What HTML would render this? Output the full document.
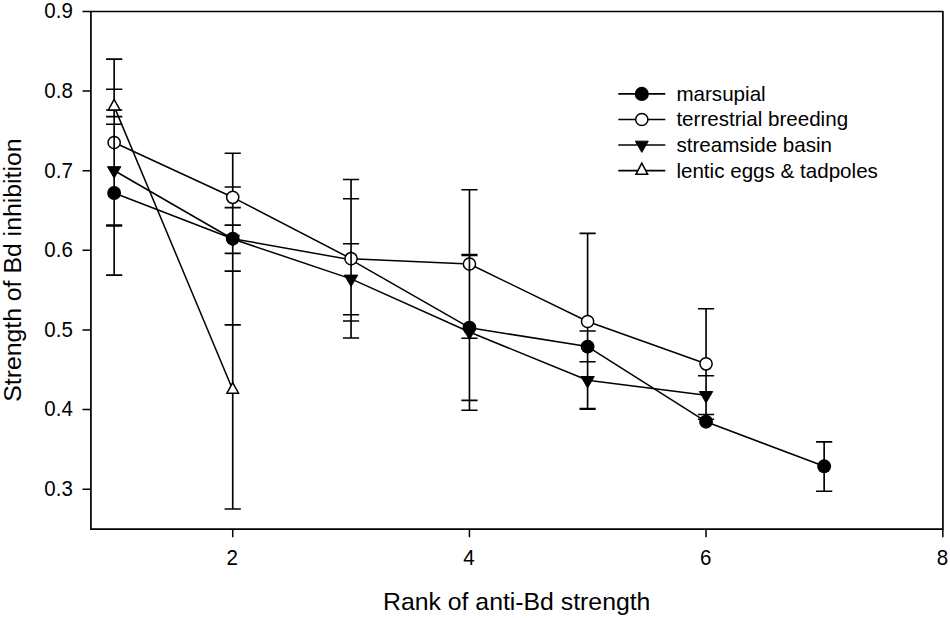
<!DOCTYPE html><html><head><meta charset="utf-8"><style>html,body{margin:0;padding:0;background:#fff;width:950px;height:618px;overflow:hidden}svg{display:block}text{font-family:"Liberation Sans",sans-serif;fill:#000}</style></head><body>
<svg width="950" height="618" viewBox="0 0 950 618">
<rect width="950" height="618" fill="#fff"/>
<path d="M90.9,11.5 L942.9,11.5 L942.9,529.2 L90.9,529.2 Z" fill="none" stroke="#000" stroke-width="1.7" stroke-linejoin="round"/>
<path d="M82.5,11.50 H90.9 M82.5,91.12 H90.9 M82.5,170.74 H90.9 M82.5,250.36 H90.9 M82.5,329.98 H90.9 M82.5,409.60 H90.9 M82.5,489.22 H90.9" stroke="#000" stroke-width="1.5" fill="none"/>
<path d="M232.72,529.2 V537.2 M469.45,529.2 V537.2 M706.05,529.2 V537.2 M942.85,529.2 V537.2" stroke="#000" stroke-width="1.5" fill="none"/>
<text x="72.8" y="18.30" font-size="20.5" text-anchor="end" transform="translate(0,18.30) scale(1,1.08) translate(0,-18.30)">0.9</text>
<text x="72.8" y="97.92" font-size="20.5" text-anchor="end" transform="translate(0,97.92) scale(1,1.08) translate(0,-97.92)">0.8</text>
<text x="72.8" y="177.54" font-size="20.5" text-anchor="end" transform="translate(0,177.54) scale(1,1.08) translate(0,-177.54)">0.7</text>
<text x="72.8" y="257.16" font-size="20.5" text-anchor="end" transform="translate(0,257.16) scale(1,1.08) translate(0,-257.16)">0.6</text>
<text x="72.8" y="336.78" font-size="20.5" text-anchor="end" transform="translate(0,336.78) scale(1,1.08) translate(0,-336.78)">0.5</text>
<text x="72.8" y="416.40" font-size="20.5" text-anchor="end" transform="translate(0,416.40) scale(1,1.08) translate(0,-416.40)">0.4</text>
<text x="72.8" y="496.02" font-size="20.5" text-anchor="end" transform="translate(0,496.02) scale(1,1.08) translate(0,-496.02)">0.3</text>
<text x="232.32" y="565.5" font-size="20.5" text-anchor="middle" transform="translate(0,565.5) scale(1,1.07) translate(0,-565.5)">2</text>
<text x="469.05" y="565.5" font-size="20.5" text-anchor="middle" transform="translate(0,565.5) scale(1,1.07) translate(0,-565.5)">4</text>
<text x="705.65" y="565.5" font-size="20.5" text-anchor="middle" transform="translate(0,565.5) scale(1,1.07) translate(0,-565.5)">6</text>
<text x="942.45" y="565.5" font-size="20.5" text-anchor="middle" transform="translate(0,565.5) scale(1,1.07) translate(0,-565.5)">8</text>
<text x="383" y="610.3" font-size="24.8">Rank of anti-Bd strength</text>
<text transform="translate(21.4,401.8) rotate(-90)" font-size="24.8">Strength of Bd inhibition</text>
<polyline points="114.15,193.00 232.72,238.70 351.05,259.80 469.45,327.70 587.60,346.60 706.05,421.70 824.15,466.30" fill="none" stroke="#000" stroke-width="1.5" stroke-linejoin="round"/>
<polyline points="114.15,142.50 232.72,197.30 351.05,258.70 469.45,264.00 587.60,321.50 706.05,363.80" fill="none" stroke="#000" stroke-width="1.5" stroke-linejoin="round"/>
<polyline points="114.15,170.50 232.72,239.00 351.05,278.90 469.45,332.00 587.60,380.30 706.05,395.30" fill="none" stroke="#000" stroke-width="1.5" stroke-linejoin="round"/>
<polyline points="114.15,106.40 232.72,389.70" fill="none" stroke="#000" stroke-width="1.5" stroke-linejoin="round"/>
<path d="M114.15,59.1 V275.1 M232.72,153.2 V509.0 M351.05,179.5 V338.1 M469.45,189.8 V410.3 M587.60,233.4 V409.0 M706.05,308.7 V420.0 M824.15,441.9 V491.2" stroke="#000" stroke-width="1.65" fill="none"/>
<path d="M106.05,59.1 h16.2 M106.05,89.2 h16.2 M106.05,110.0 h16.2 M106.05,116.6 h16.2 M106.05,124.2 h16.2 M106.05,225.1 h16.2 M106.05,225.9 h16.2 M106.05,275.1 h16.2 M224.62,153.2 h16.2 M224.62,187.0 h16.2 M224.62,207.6 h16.2 M224.62,225.1 h16.2 M224.62,253.4 h16.2 M224.62,271.1 h16.2 M224.62,324.9 h16.2 M224.62,509.0 h16.2 M342.95,179.5 h16.2 M342.95,198.7 h16.2 M342.95,243.7 h16.2 M342.95,314.8 h16.2 M342.95,321.0 h16.2 M342.95,338.0 h16.2 M461.35,189.8 h16.2 M461.35,254.5 h16.2 M461.35,255.4 h16.2 M461.35,338.2 h16.2 M461.35,400.4 h16.2 M461.35,410.3 h16.2 M579.50,233.4 h16.2 M579.50,331.0 h16.2 M579.50,361.7 h16.2 M579.50,408.5 h16.2 M579.50,409.3 h16.2 M697.95,308.7 h16.2 M697.95,375.7 h16.2 M697.95,414.5 h16.2 M697.95,419.3 h16.2 M816.05,441.9 h16.2 M816.05,491.2 h16.2" stroke="#000" stroke-width="1.6" fill="none"/>
<path d="M107.45,166.70 L120.85,166.70 L114.15,178.10 Z" fill="#000" stroke="#000" stroke-width="1" stroke-linejoin="miter"/>
<path d="M226.02,235.20 L239.42,235.20 L232.72,246.60 Z" fill="#000" stroke="#000" stroke-width="1" stroke-linejoin="miter"/>
<path d="M344.35,275.10 L357.75,275.10 L351.05,286.50 Z" fill="#000" stroke="#000" stroke-width="1" stroke-linejoin="miter"/>
<path d="M462.75,328.20 L476.15,328.20 L469.45,339.60 Z" fill="#000" stroke="#000" stroke-width="1" stroke-linejoin="miter"/>
<path d="M580.90,376.50 L594.30,376.50 L587.60,387.90 Z" fill="#000" stroke="#000" stroke-width="1" stroke-linejoin="miter"/>
<path d="M699.35,391.50 L712.75,391.50 L706.05,402.90 Z" fill="#000" stroke="#000" stroke-width="1" stroke-linejoin="miter"/>
<circle cx="114.15" cy="193.00" r="6.95" fill="#000"/>
<circle cx="232.72" cy="238.70" r="6.95" fill="#000"/>
<circle cx="469.45" cy="327.70" r="6.95" fill="#000"/>
<circle cx="587.60" cy="346.60" r="6.95" fill="#000"/>
<circle cx="706.05" cy="421.70" r="6.95" fill="#000"/>
<circle cx="824.15" cy="466.30" r="6.95" fill="#000"/>
<circle cx="114.15" cy="142.50" r="6.1" fill="#fff" stroke="#000" stroke-width="1.5"/>
<circle cx="232.72" cy="197.30" r="6.1" fill="#fff" stroke="#000" stroke-width="1.5"/>
<circle cx="351.05" cy="258.70" r="6.1" fill="#fff" stroke="#000" stroke-width="1.5"/>
<circle cx="469.45" cy="264.00" r="6.1" fill="#fff" stroke="#000" stroke-width="1.5"/>
<circle cx="587.60" cy="321.50" r="6.1" fill="#fff" stroke="#000" stroke-width="1.5"/>
<circle cx="706.05" cy="363.80" r="6.1" fill="#fff" stroke="#000" stroke-width="1.5"/>
<path d="M114.15,135.00 V150.00" stroke="#000" stroke-width="1.65"/>
<path d="M351.05,251.20 V266.20" stroke="#000" stroke-width="1.65"/>
<path d="M469.45,256.50 V271.50" stroke="#000" stroke-width="1.65"/>
<path d="M114.15,99.33 L119.95,109.93 L108.35,109.93 Z" fill="#fff" stroke="#000" stroke-width="1.5" stroke-linejoin="miter"/>
<path d="M232.72,382.63 L238.52,393.23 L226.92,393.23 Z" fill="#fff" stroke="#000" stroke-width="1.5" stroke-linejoin="miter"/>
<path d="M618.3,93.9 H665.3" stroke="#000" stroke-width="1.7"/>
<circle cx="641.80" cy="93.90" r="7.1" fill="#000"/>
<text x="676.4" y="100.60" font-size="20.6">marsupial</text>
<path d="M618.3,119.5 H665.3" stroke="#000" stroke-width="1.55"/>
<circle cx="641.80" cy="119.50" r="6.1" fill="#fff" stroke="#000" stroke-width="1.5"/>
<text x="676.4" y="126.20" font-size="20.6">terrestrial breeding</text>
<path d="M618.3,144.9 H665.3" stroke="#000" stroke-width="1.55"/>
<path d="M635.30,141.17 L648.30,141.17 L641.80,152.37 Z" fill="#000" stroke="#000" stroke-width="1" stroke-linejoin="miter"/>
<text x="676.4" y="151.70" font-size="20.6">streamside basin</text>
<path d="M618.3,170.6 H665.3" stroke="#000" stroke-width="1.55"/>
<path d="M641.80,163.13 L647.65,174.33 L635.95,174.33 Z" fill="#fff" stroke="#000" stroke-width="1.5" stroke-linejoin="miter"/>
<text x="676.4" y="177.60" font-size="20.6">lentic eggs &amp; tadpoles</text>
</svg></body></html>
